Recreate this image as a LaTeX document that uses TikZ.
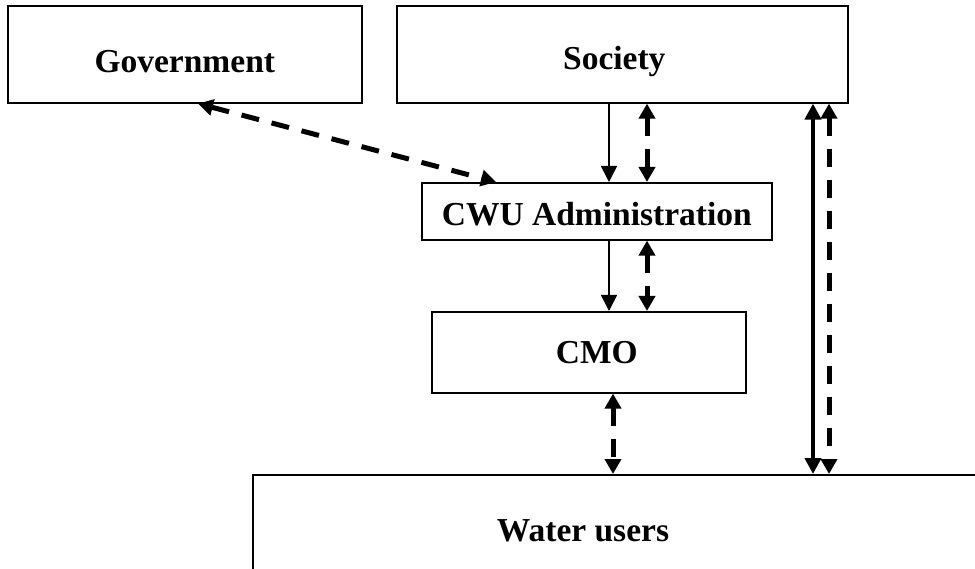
\documentclass[tikz,border=0pt]{standalone}
\usepackage{fontspec}
\setmainfont{Liberation Serif}
\usetikzlibrary{arrows.meta,calc}
\begin{document}
\begin{tikzpicture}[x=1pt,y=-1pt,
  box/.style={draw,line width=1.6pt,rectangle,inner sep=0pt,anchor=north west},
  lbl/.style={font=\fontsize{33.5}{40}\selectfont\bfseries,inner sep=0pt},
  flow/.style={line width=1.6pt,-{Triangle[width=16pt,length=16pt]}},
  twoway/.style={line width=4pt,{Triangle[width=16pt,length=16pt]}-{Triangle[width=16pt,length=16pt]}},
  dashlink/.style={line width=5pt,dash pattern=on 18pt off 13pt,
    {Triangle[width=16pt,length=15pt]}-{Triangle[width=16pt,length=15pt]}}]
  \useasboundingbox (0,0) rectangle (975,569);
  \clip (0,0) rectangle (975,569);

  % boxes
  \node[box,minimum width=354pt,minimum height=97pt] (gov) at (7,5) {};
  \node[box,minimum width=451pt,minimum height=97pt] (soc) at (396,5) {};
  \node[box,minimum width=350pt,minimum height=57pt] (cwu) at (421,182) {};
  \node[box,minimum width=314pt,minimum height=81pt] (cmo) at (431,311) {};
  \node[box,minimum width=800pt,minimum height=200pt] (wu) at (252,474) {};

  % box labels
  \node[lbl] (govlabel) at ([yshift=-7pt]gov.center) {Government};
  \node[lbl] (soclabel) at ([xshift=-8pt,yshift=-7pt]soc.center) {Society};
  \node[lbl] (cwulabel) at ([yshift=-3pt]cwu.center) {CWU Administration};
  \node[lbl] (cmolabel) at ([xshift=8pt]cmo.center) {CMO};
  \node[lbl] (wulabel) at (583,531) {Water users};

  % government <-> CWU administration
  \draw[dashlink] ([xshift=191pt]gov.south west) -- ([xshift=75pt]cwu.north west);

  % society -> CWU administration
  \draw[flow] (soc.south -| 609,0) -- (cwu.north -| 609,0);
  \draw[dashlink] (soc.south -| 647,0) -- (cwu.north -| 647,0);

  % CWU administration -> CMO
  \draw[flow] (cwu.south -| 609,0) -- (cmo.north -| 609,0);
  \draw[dashlink] (cwu.south -| 647,0) -- (cmo.north -| 647,0);

  % CMO <-> water users
  \draw[dashlink] (cmo.south -| 613,0) -- (wu.north -| 613,0);

  % society <-> water users
  \draw[twoway] (soc.south -| 813,0) -- (wu.north -| 813,0);
  \draw[dashlink] (soc.south -| 829,0) -- (wu.north -| 829,0);
\end{tikzpicture}
\end{document}
